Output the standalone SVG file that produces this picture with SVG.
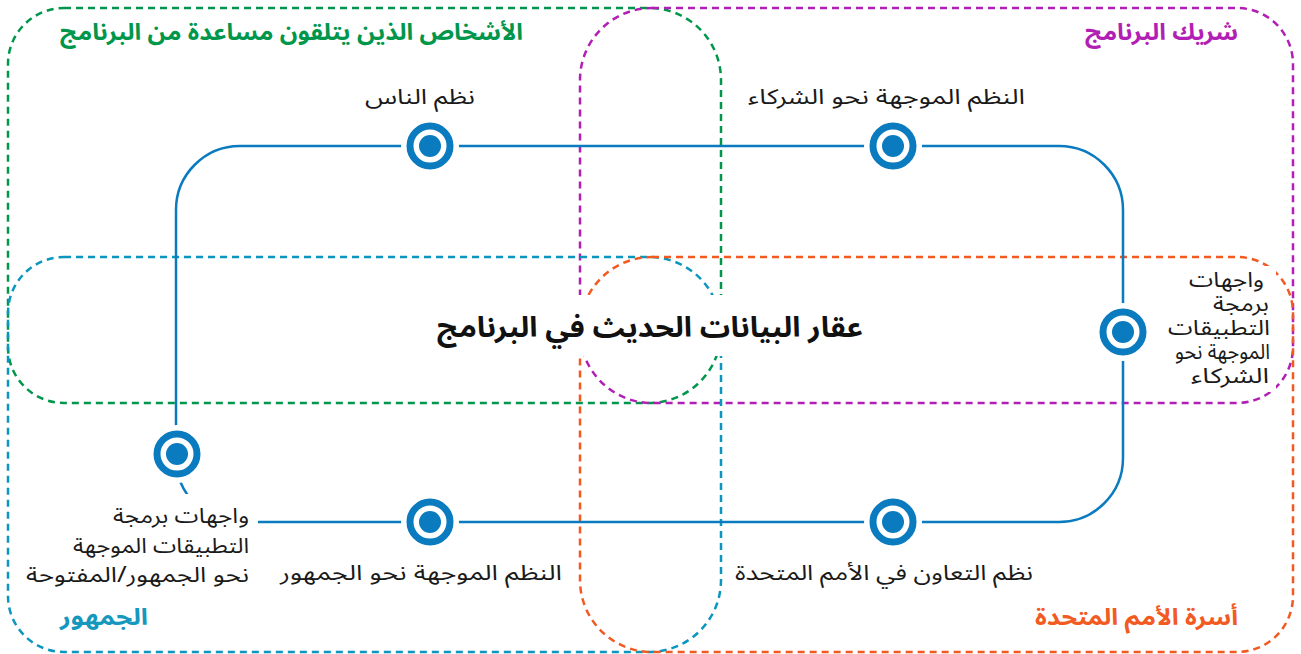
<svg xmlns="http://www.w3.org/2000/svg" width="1301" height="654" viewBox="0 0 1301 654">
<style>
.reg{fill:none;stroke-width:2.5;stroke-dasharray:7 5}
.t{font-family:"Noto Sans Arabic","Noto Sans","DejaVu Sans",sans-serif;font-size:21px;fill:#1a1a1a}
.h{font-family:"Noto Sans Arabic","Noto Sans","DejaVu Sans",sans-serif;font-size:23px;font-weight:bold}
.halo{fill:#fff}
.ring{fill:#fff;stroke:#0B7BC0;stroke-width:7}
.dot{fill:#0B7BC0}
</style>
<rect width="1301" height="654" fill="#fff"/>
<g id="regions">
<path id="green" class="reg" stroke="#00964B" d="M64,8H649A72,72 0 0 1 721,80V331A72,72 0 0 1 649,403H64A56,56 0 0 1 8,347V64A56,56 0 0 1 64,8Z"/>
<path id="purple" class="reg" stroke="#B21FB5" d="M652,8H1237A56,56 0 0 1 1293,64V347A56,56 0 0 1 1237,403H652A72,72 0 0 1 580,331V80A72,72 0 0 1 652,8Z"/>
<path id="blue" class="reg" stroke="#0A96BE" d="M64,257H649A72,72 0 0 1 721,329V580A72,72 0 0 1 649,652H64A56,56 0 0 1 8,596V313A56,56 0 0 1 64,257Z"/>
<path id="orange" class="reg" stroke="#F25A22" d="M652,257H1237A56,56 0 0 1 1293,313V596A56,56 0 0 1 1237,652H652A72,72 0 0 1 580,580V329A72,72 0 0 1 652,257Z"/>
</g>
<g id="connectors">
<path d="M240,146H1059A64,64 0 0 1 1123,210V458A64,64 0 0 1 1059,522H240A64,64 0 0 1 176,458V210A64,64 0 0 1 240,146Z" fill="none" stroke="#0B7BC0" stroke-width="2.5"/>
</g>
<g id="headings">
<text class="h" x="523" y="40" text-anchor="end" fill="#00964B" textLength="463" lengthAdjust="spacingAndGlyphs">الأشخاص الذين يتلقون مساعدة من البرنامج</text>
<text class="h" x="1238" y="40" text-anchor="end" fill="#B21FB5" textLength="153" lengthAdjust="spacingAndGlyphs">شريك البرنامج</text>
<text class="h" x="148" y="625" text-anchor="end" fill="#1597BE" textLength="88" lengthAdjust="spacingAndGlyphs">الجمهور</text>
<text class="h" x="1238" y="625" text-anchor="end" fill="#F25A22" textLength="203" lengthAdjust="spacingAndGlyphs">أسرة الأمم المتحدة</text>
</g>
<g id="title">
<rect class="halo" x="432" y="295" width="436" height="61"/>
<text x="650" y="337" text-anchor="middle" font-family="Noto Sans Arabic, Noto Sans, DejaVu Sans, sans-serif" font-size="28" font-weight="bold" fill="#111" textLength="426" lengthAdjust="spacingAndGlyphs">عقار البيانات الحديث في البرنامج</text>
</g>
<g id="node-people">
<circle class="halo" cx="430" cy="146" r="29"/><circle class="ring" cx="430" cy="146" r="20"/><circle class="dot" cx="430" cy="146" r="11"/>
<text class="t" x="420" y="104" text-anchor="middle" textLength="110" lengthAdjust="spacingAndGlyphs">نظم الناس</text>
</g>
<g id="node-partner">
<circle class="halo" cx="893" cy="146" r="29"/><circle class="ring" cx="893" cy="146" r="20"/><circle class="dot" cx="893" cy="146" r="11"/>
<text class="t" x="1025" y="104" text-anchor="end" textLength="277" lengthAdjust="spacingAndGlyphs">النظم الموجهة نحو الشركاء</text>
</g>
<g id="node-partner-api">
<circle class="halo" cx="1123" cy="332" r="29"/><circle class="ring" cx="1123" cy="332" r="20"/><circle class="dot" cx="1123" cy="332" r="11"/>
<rect class="halo" x="1160" y="266" width="116" height="126"/>
<text class="t" x="1264" y="287" text-anchor="end" textLength="75" lengthAdjust="spacingAndGlyphs">واجهات</text>
<text class="t" x="1269" y="311" text-anchor="end" textLength="56" lengthAdjust="spacingAndGlyphs">برمجة</text>
<text class="t" x="1270" y="335" text-anchor="end" textLength="102" lengthAdjust="spacingAndGlyphs">التطبيقات</text>
<text class="t" x="1270" y="359" text-anchor="end" textLength="95" lengthAdjust="spacingAndGlyphs">الموجهة نحو</text>
<text class="t" x="1269" y="383" text-anchor="end" textLength="78" lengthAdjust="spacingAndGlyphs">الشركاء</text>
</g>
<g id="node-un">
<circle class="halo" cx="893" cy="522" r="29"/><circle class="ring" cx="893" cy="522" r="20"/><circle class="dot" cx="893" cy="522" r="11"/>
<text class="t" x="1033" y="580" text-anchor="end" textLength="298" lengthAdjust="spacingAndGlyphs">نظم التعاون في الأمم المتحدة</text>
</g>
<g id="node-public">
<circle class="halo" cx="430" cy="522" r="29"/><circle class="ring" cx="430" cy="522" r="20"/><circle class="dot" cx="430" cy="522" r="11"/>
<text class="t" x="562" y="580" text-anchor="end" textLength="282" lengthAdjust="spacingAndGlyphs">النظم الموجهة نحو الجمهور</text>
</g>
<g id="node-public-api">
<circle class="halo" cx="177" cy="454" r="29"/><circle class="ring" cx="177" cy="454" r="20"/><circle class="dot" cx="177" cy="454" r="11"/>
<rect class="halo" x="18" y="494" width="240" height="98"/>
<text class="t" x="249" y="523" text-anchor="end" textLength="136" lengthAdjust="spacingAndGlyphs">واجهات برمجة</text>
<text class="t" x="249" y="553" text-anchor="end" textLength="176" lengthAdjust="spacingAndGlyphs">التطبيقات الموجهة</text>
<text class="t" x="249" y="582" text-anchor="end" textLength="223" lengthAdjust="spacingAndGlyphs">نحو الجمهور/المفتوحة</text>
</g>
</svg>
